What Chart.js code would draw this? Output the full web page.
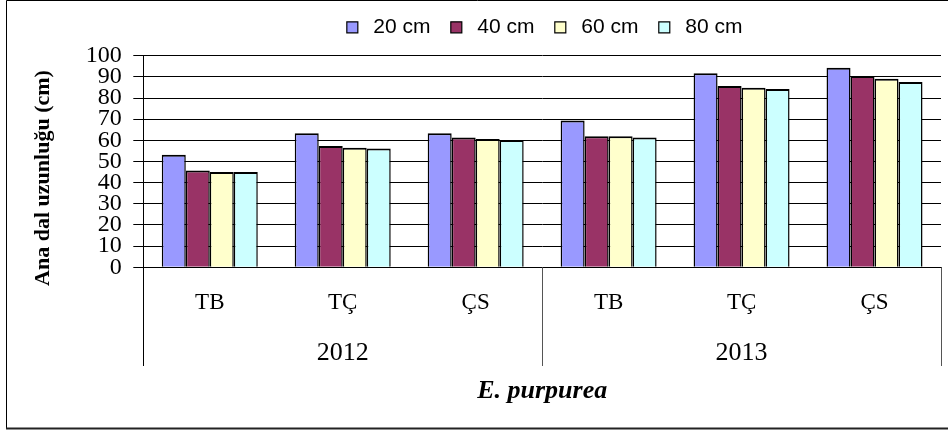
<!DOCTYPE html>
<html>
<head>
<meta charset="utf-8">
<script src="https://cdn.jsdelivr.net/npm/chart.js@4/dist/chart.umd.min.js"></script>
<style>
  html, body { margin: 0; padding: 0; background: #fff; }
  #wrap { width: 948px; height: 430px; position: relative; }
</style>
</head>
<body>
<div id="wrap"><canvas id="c" width="948" height="430"></canvas></div>
<script>
// Treatments within each year, and the two years they are grouped under
const categories = ['TB', 'TÇ', 'ÇS', 'TB', 'TÇ', 'ÇS'];
const years = ['2012', '2013'];
const yearSpan = [3, 3];

// Main branch length (cm) per planting distance
const seriesNames = ['20 cm', '40 cm', '60 cm', '80 cm'];
const len20 = [53.2, 63.3, 63.3, 69.4, 91.7, 94.3];
const len40 = [45.8, 57.3, 61.3, 61.9, 85.7, 90.4];
const len60 = [45.0, 56.5, 60.6, 61.9, 84.9, 89.1];
const len80 = [45.0, 56.1, 60.2, 61.3, 84.3, 87.6];

// Value axis
const yMin = 0;
const yMax = 100;
const yStep = 10;

const yTitle = 'Ana dal uzunluğu (cm)';
const xTitle = 'E. purpurea';

const colors = ['#9999FF', '#993366', '#FFFFCC', '#CCFFFF'];
const seriesValues = [len20, len40, len60, len80];

const SERIF = '"Liberation Serif", "Times New Roman", serif';
const SANS = '"Liberation Sans", Arial, sans-serif';

// Outer frame of the figure
const framePlugin = {
  id: 'frame',
  beforeDraw(chart) {
    const ctx = chart.ctx;
    ctx.save();
    ctx.strokeStyle = '#000';
    ctx.lineWidth = 1;
    ctx.beginPath();
    ctx.moveTo(6.5, 429);
    ctx.lineTo(6.5, 0.5);
    ctx.lineTo(948, 0.5);
    ctx.stroke();
    ctx.lineWidth = 2;
    ctx.strokeStyle = '#222';
    ctx.beginPath();
    ctx.moveTo(6, 428.5);
    ctx.lineTo(948, 428.5);
    ctx.stroke();
    ctx.restore();
  }
};

// Leaves extra room between the legend row and the plot
const legendGap = {
  id: 'legendGap',
  beforeLayout(chart, args, opts) {
    const lg = chart.legend;
    if (lg && !lg._gapPatched) {
      const fit = lg.fit;
      lg.fit = function () {
        fit.call(this);
        if (this.height) this.height += opts.extra || 0;
      };
      lg._gapPatched = true;
    }
  }
};

// Year level of the category axis plus the rotated value-axis title
const yearAxis = {
  id: 'yearAxis',
  afterDraw(chart) {
    const ctx = chart.ctx;
    const x = chart.scales.x;
    const area = chart.chartArea;
    const lineBottom = 366;

    // boundaries between year groups
    const bounds = [x.left];
    let idx = 0;
    yearSpan.forEach((n) => {
      idx += n;
      if (idx < categories.length) {
        bounds.push((x.getPixelForValue(idx - 1) + x.getPixelForValue(idx)) / 2);
      } else {
        bounds.push(x.right);
      }
    });

    ctx.save();
    ctx.lineWidth = 1;
    bounds.forEach((b, i) => {
      const px = Math.round(b) + 0.5;
      ctx.strokeStyle = i === 0 ? '#000' : '#555';
      ctx.beginPath();
      ctx.moveTo(px, area.bottom);
      ctx.lineTo(px, lineBottom);
      ctx.stroke();
    });

    ctx.fillStyle = '#000';
    ctx.font = '26px ' + SERIF;
    ctx.textAlign = 'center';
    ctx.textBaseline = 'alphabetic';
    years.forEach((yr, i) => {
      ctx.fillText(yr, (bounds[i] + bounds[i + 1]) / 2, 360);
    });

    ctx.translate(43, 178);
    ctx.rotate(-Math.PI / 2);
    ctx.font = 'bold 22px ' + SERIF;
    ctx.textBaseline = 'middle';
    ctx.fillText(yTitle, 0, 0);
    ctx.restore();
  }
};

new Chart(document.getElementById('c'), {
  type: 'bar',
  data: {
    labels: categories,
    datasets: seriesNames.map((name, i) => ({
      label: name,
      data: seriesValues[i],
      backgroundColor: colors[i],
      borderColor: '#000',
      borderWidth: { top: 2, left: 1.5, right: 1.5, bottom: 0 },
      categoryPercentage: 0.722,
      barPercentage: 1.0
    }))
  },
  options: {
    responsive: false,
    animation: false,
    devicePixelRatio: 1,
    layout: { padding: { top: 1.5, right: 7, bottom: 0, left: 0 } },
    plugins: {
      legend: {
        position: 'top',
        fullSize: false,
        labels: {
          usePointStyle: true,
          pointStyle: 'rect',
          boxWidth: 21,
          boxHeight: 11,
          padding: 15.3,
          color: '#000',
          font: { family: SANS, size: 21 },
          generateLabels(chart) {
            const items = Chart.defaults.plugins.legend.labels.generateLabels(chart);
            items.forEach((it) => { it.lineWidth = 1.2; });
            return items;
          }
        }
      },
      legendGap: { extra: 7.9 },
      tooltip: { enabled: false }
    },
    scales: {
      x: {
        type: 'category',
        offset: true,
        grid: { display: false, drawTicks: false },
        border: { display: true, color: '#000', width: 1 },
        ticks: {
          color: '#000',
          padding: 21.8,
          autoSkip: false,
          maxRotation: 0,
          font: { family: SERIF, size: 23 }
        },
        title: {
          display: true,
          text: xTitle,
          color: '#000',
          padding: { top: 0, bottom: 23.2 },
          font: { family: SERIF, size: 26, style: 'italic', weight: 'bold' }
        },
        afterFit(scale) { scale.height = 162.7; }
      },
      y: {
        min: yMin,
        max: yMax,
        grid: { color: '#000', lineWidth: 1, drawTicks: true, tickLength: 10 },
        border: { display: true, color: '#000', width: 1 },
        ticks: {
          stepSize: yStep,
          autoSkip: false,
          color: '#000',
          padding: 11.6,
          font: { family: SERIF, size: 24 }
        },
        afterFit(scale) { scale.width = 143.3; }
      }
    }
  },
  plugins: [framePlugin, legendGap, yearAxis]
});
</script>
</body>
</html>
